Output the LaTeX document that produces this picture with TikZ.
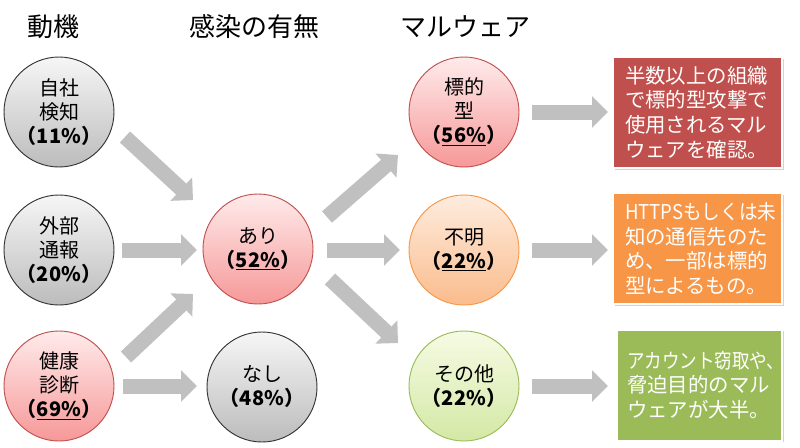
\documentclass[tikz,border=0pt]{standalone}
\usepackage{fontspec}
\setmainfont{Noto Sans CJK JP}
\usepackage{graphicx}
\usepackage{tikz}
\usetikzlibrary{arrows.meta, positioning, calc, shadows}
\definecolor{arrowgray}{RGB}{192, 192, 192}
\definecolor{boxred}{RGB}{192, 80, 77}
\definecolor{boxorange}{RGB}{247, 150, 70}
\definecolor{boxgreen}{RGB}{155, 187, 89}
\definecolor{graytop}{RGB}{246, 246, 246}
\definecolor{graybot}{RGB}{188, 188, 188}
\definecolor{pinktop}{RGB}{255, 235, 235}
\definecolor{pinkbot}{RGB}{246, 152, 152}
\definecolor{orangetop}{RGB}{254, 236, 222}
\definecolor{orangebot}{RGB}{250, 188, 140}
\definecolor{greentop}{RGB}{246, 251, 228}
\definecolor{greenbot}{RGB}{212, 232, 165}

\begin{document}
\begin{tikzpicture}[x=0.75pt, y=-0.75pt,
    colhead/.style={font=\fontsize{19.5}{22}\selectfont},
    ball/.style={circle, minimum size=82.5pt, inner sep=0pt, align=center, line width=0.7pt, font=\fontsize{15}{18}\selectfont},
    grayball/.style={ball, draw=black!80, top color=graytop, bottom color=graybot},
    pinkball/.style={ball, draw=boxred, top color=pinktop, bottom color=pinkbot},
    orangeball/.style={ball, draw=boxorange, top color=orangetop, bottom color=orangebot},
    greenball/.style={ball, draw=boxgreen, top color=greentop, bottom color=greenbot},
    note/.style={rectangle, minimum width=126.75pt, minimum height=83.25pt, text width=108.75pt, align=left, text=white, draw=white, line width=1.5pt, drop shadow={shadow xshift=1.2pt, shadow yshift=-1.2pt, opacity=0.35}, font=\fontsize{15.3}{18.4}\selectfont},
    blk/.style={arrowgray, line width=11.25pt, -{Triangle[length=12pt, width=23.25pt]}}]
    \useasboundingbox (0, 0) rectangle (800, 447);

    % 見出し
    \node[colhead] (motive) at (53, 27) {動機};
    \node[colhead] (infect) at (254, 27) {感染の有無};
    \node[colhead] (malware) at (465, 27) {マルウェア};

    % 動機
    \node[grayball] (jisha) at (59, 112) {自社\\検知\\{\bfseries （11\%）}};
    \node[grayball] (gaibu) at (59, 250) {外部\\通報\\{\bfseries （20\%）}};
    \node[pinkball] (kenko) at (59, 386) {健康\\診断\\{\bfseries （\underline{69\%}）}};

    % 感染の有無
    \node[pinkball] (ari) at (258, 249) {あり\\{\bfseries （\underline{52\%}）}};
    \node[grayball] (nashi) at (262, 387) {なし\\{\bfseries （48\%）}};

    % マルウェア
    \node[pinkball] (hyoteki) at (464, 112) {標的\\型\\{\bfseries （\underline{56\%}）}};
    \node[orangeball] (fumei) at (464, 250) {不明\\{\bfseries （\underline{22\%}）}};
    \node[greenball] (sonota) at (464, 386) {その他\\{\bfseries （22\%）}};

    % 説明
    \node[note, fill=boxred] (noteA) at (697.5, 112.5) {半数以上の組織\\で標的型攻撃で\\使用されるマル\\ウェアを確認。};
    \node[note, fill=boxorange] (noteB) at (697.5, 248.5) {\scalebox{0.91}[1]{HTTPSもしくは未}\\知の通信先のた\\め、一部は標的\\型によるもの。};
    \node[note, fill=boxgreen, minimum width=123.75pt] (noteC) at (699.5, 385) {\scalebox{0.86}[1]{アカウント窃取や、}\\脅迫目的のマル\\ウェアが大半。};

    % 矢印
    \draw[blk] ($(jisha)+(66, 25)$) -- ($(ari)+(-65, -49)$);
    \draw[blk] ($(gaibu)+(63, 0)$) -- ($(ari)+(-61, 1)$);
    \draw[blk] ($(kenko)+(67, -29)$) -- ($(ari)+(-65, 45)$);
    \draw[blk] ($(kenko)+(64, 0)$) -- ($(nashi)+(-65, -1)$);
    \draw[blk] ($(ari)+(69, -32)$) -- ($(hyoteki)+(-66, 43)$);
    \draw[blk] ($(ari)+(69, 1)$) -- ($(fumei)+(-64, 0)$);
    \draw[blk] ($(ari)+(72, 30)$) -- ($(sonota)+(-66, -43)$);
    \foreach \a/\b in {hyoteki/noteA, fumei/noteB, sonota/noteC}
        \draw[blk] ($(\a)+(68, 0)$) -- ($(\a)+(144, 0)$);
\end{tikzpicture}
\end{document}
